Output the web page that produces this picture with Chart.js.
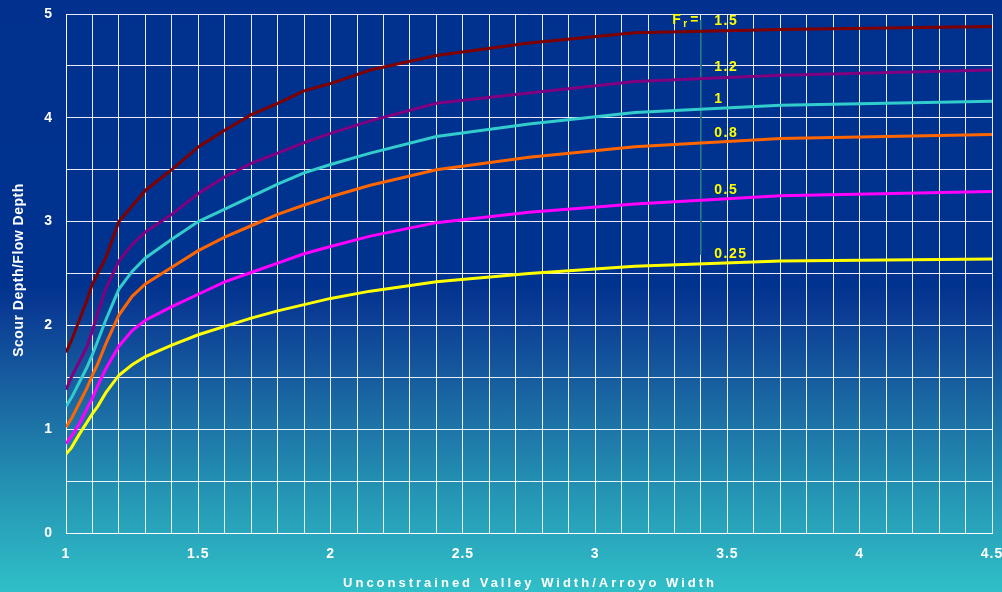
<!DOCTYPE html>
<html>
<head>
<meta charset="utf-8">
<script src="https://cdn.jsdelivr.net/npm/chart.js@4"></script>
<style>
  html, body { margin: 0; padding: 0; }
  body {
    width: 1002px; height: 592px; overflow: hidden;
    background: linear-gradient(to bottom, #00318f 0%, #00328f 48%, #0b3d95 53%, #1a68a2 68%, #2597b5 84%, #30bfc8 100%);
  }
  canvas { display: block; }
</style>
</head>
<body>
<canvas id="myChart" width="1002" height="592"></canvas>
<script>
// valley width ratio (x)
const widthRatio = [1, 1.02, 1.05, 1.08, 1.1, 1.12, 1.15, 1.2, 1.25, 1.3, 1.4, 1.5, 1.6, 1.7, 1.8, 1.9, 2, 2.15, 2.4, 2.75, 3.15, 3.7, 4.5];

// scour depth / flow depth for each Froude number
const fr150 = [1.74, 1.85, 2.05, 2.25, 2.4, 2.5, 2.65, 3.0, 3.15, 3.3, 3.5, 3.72, 3.88, 4.03, 4.14, 4.26, 4.33, 4.46, 4.6, 4.72, 4.82, 4.85, 4.88];
const fr120 = [1.38, 1.5, 1.65, 1.8, 1.95, 2.12, 2.35, 2.62, 2.78, 2.9, 3.07, 3.27, 3.43, 3.56, 3.66, 3.76, 3.85, 3.97, 4.14, 4.24, 4.35, 4.41, 4.46];
const fr100 = [1.22, 1.3, 1.45, 1.6, 1.72, 1.85, 2.05, 2.35, 2.52, 2.65, 2.83, 3.0, 3.12, 3.24, 3.36, 3.47, 3.55, 3.66, 3.82, 3.94, 4.05, 4.12, 4.16];
const fr080 = [1.02, 1.1, 1.25, 1.4, 1.52, 1.63, 1.82, 2.1, 2.28, 2.4, 2.56, 2.72, 2.85, 2.96, 3.07, 3.16, 3.24, 3.35, 3.5, 3.62, 3.72, 3.8, 3.84];
const fr050 = [0.86, 0.93, 1.05, 1.2, 1.3, 1.42, 1.58, 1.8, 1.95, 2.05, 2.18, 2.3, 2.42, 2.51, 2.6, 2.69, 2.76, 2.86, 2.99, 3.09, 3.17, 3.25, 3.29];
const fr025 = [0.76, 0.82, 0.95, 1.07, 1.15, 1.22, 1.35, 1.52, 1.62, 1.7, 1.81, 1.91, 1.99, 2.07, 2.14, 2.2, 2.26, 2.33, 2.42, 2.5, 2.57, 2.62, 2.64];

const seriesNames = ['1.5', '1.2', '1', '0.8', '0.5', '0.25'];
const seriesColors = ['#800000', '#800080', '#33cccc', '#ff6600', '#ff00ff', '#ffff00'];
const seriesValues = [fr150, fr120, fr100, fr080, fr050, fr025];

// where the curve labels sit (data units)
const labelX = 3.45;
const labelY = [4.93, 4.49, 4.18, 3.85, 3.30, 2.69];

// thin divider line behind the labels
const dividerX = [3.4, 3.4];
const dividerY = [4.94, 2.68];

const FONT = 'Arial, "Liberation Sans", sans-serif';

let datasets = seriesValues.map((vals, i) => ({
  label: seriesNames[i],
  data: widthRatio.map((x, j) => ({ x: x, y: vals[j] })),
  borderColor: seriesColors[i],
  borderWidth: 3,
  pointRadius: 0,
  tension: 0,
  fill: false
}));
datasets.push({
  label: 'divider',
  data: dividerX.map((x, j) => ({ x: x, y: dividerY[j] })),
  borderColor: '#127080',
  borderWidth: 1,
  pointRadius: 0,
  fill: false
});

let spacingPlugin = {
  id: 'spacing',
  beforeDraw: (chart) => {
    chart.ctx.letterSpacing = '1px';
  }
};

let textPlugin = {
  id: 'texts',
  afterDraw: (chart) => {
    const ctx = chart.ctx;
    const xs = chart.scales.x, ys = chart.scales.y;
    ctx.save();
    ctx.fillStyle = '#ffffff';
    ctx.font = 'bold 13px ' + FONT;
    ctx.textAlign = 'center';
    ctx.textBaseline = 'middle';
    ctx.letterSpacing = '3px';
    ctx.fillText('Unconstrained Valley Width/Arroyo Width', 530, 583);

    ctx.letterSpacing = '0.5px';
    ctx.font = 'bold 14px ' + FONT;
    ctx.translate(19, 270);
    ctx.rotate(-Math.PI / 2);
    ctx.fillText('Scour Depth/Flow Depth', 0, 0);
    ctx.restore();

    ctx.save();
    ctx.fillStyle = '#ffff00';
    ctx.font = 'bold 14px ' + FONT;
    ctx.textAlign = 'left';
    ctx.textBaseline = 'middle';
    ctx.letterSpacing = '1.5px';
    let lx = xs.getPixelForValue(labelX);
    seriesNames.forEach((name, i) => {
      ctx.fillText(name, lx, ys.getPixelForValue(labelY[i]));
    });
    // F_r =
    let fy = ys.getPixelForValue(labelY[0]) - 1;
    ctx.fillText('F', lx - 42, fy);
    ctx.font = 'bold 10px ' + FONT;
    ctx.fillText('r', lx - 31, fy + 4);
    ctx.font = 'bold 14px ' + FONT;
    ctx.fillText('=', lx - 24, fy);
    ctx.restore();
  }
};

let ctx = document.getElementById('myChart').getContext('2d');
let chart = new Chart(ctx, {
  type: 'line',
  data: { datasets: datasets },
  plugins: [spacingPlugin, textPlugin],
  options: {
    responsive: false,
    animation: false,
    layout: { padding: { left: 0, top: 14, right: 10, bottom: 0 } },
    plugins: {
      legend: { display: false },
      tooltip: { enabled: false }
    },
    scales: {
      x: {
        type: 'linear',
        min: 1,
        max: 4.5,
        afterFit: (scale) => {
          scale.height = 59;
          scale.paddingLeft = 0;
          scale.paddingRight = 0;
        },
        border: { color: '#ffffff', width: 1 },
        grid: { color: 'rgba(255,255,255,0.9)', lineWidth: 1, drawTicks: false },
        ticks: {
          stepSize: 0.1,
          autoSkip: false,
          maxRotation: 0,
          padding: 13,
          color: '#ffffff',
          font: { family: FONT, size: 14, weight: 'bold' },
          callback: (v) => {
            let half = v * 2;
            if (Math.abs(half - Math.round(half)) > 1e-6) return '';
            return String(Math.round(half) / 2);
          }
        }
      },
      y: {
        min: 0,
        max: 5,
        afterFit: (scale) => {
          scale.width = 66;
          scale.paddingTop = 0;
          scale.paddingBottom = 0;
        },
        border: { color: '#ffffff', width: 1 },
        grid: { color: 'rgba(255,255,255,0.9)', lineWidth: 1, drawTicks: false },
        ticks: {
          stepSize: 0.5,
          padding: 13,
          color: '#ffffff',
          font: { family: FONT, size: 14, weight: 'bold' },
          callback: (v) => (Math.abs(v - Math.round(v)) < 1e-6 ? String(Math.round(v)) : '')
        }
      }
    }
  }
});
</script>
</body>
</html>
